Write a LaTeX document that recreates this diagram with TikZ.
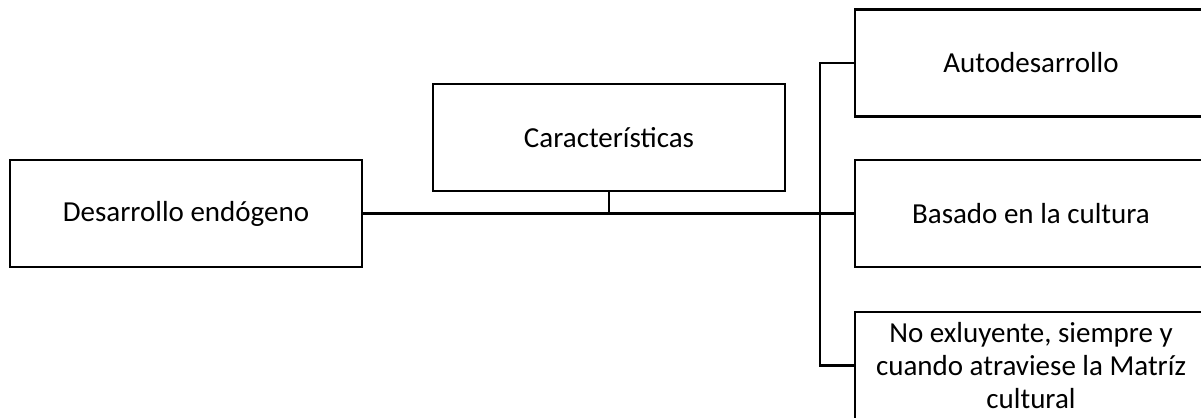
\documentclass[tikz,border=0pt]{standalone}
\usepackage{fontspec}
\setmainfont{Carlito}
\tikzset{
  caja/.style={draw, line width=1.1pt, minimum width=176pt, minimum height=53.5pt, align=center, inner sep=0pt, font=\fontsize{14.5}{16.5}\selectfont},
  linea/.style={line width=1.1pt}
}
\begin{document}
\begin{tikzpicture}[x=0.5pt,y=-0.5pt]
        \useasboundingbox (0,0) rectangle (1201,418);
        \clip (0,0) rectangle (1201,418);
        %\draw [help lines] (0,0) grid[step=50] (1201,418);
        \node [caja] (desarrollo) at (186,213.5) {Desarrollo endógeno};
        \node [caja] (carac) at (609,137.5) {Características};
        
        \node [caja] (auto) at (1031,63) {Autodesarrollo};
        \node [caja] (cultura) at (1031,213.5) {Basado en la cultura};
        \node [caja] (matriz) at (1031,365.5) {No exluyente, siempre y\\cuando atraviese la Matríz\\cultural};
        
        \coordinate (tronco) at (820,213.5);
        
        \draw [line width=1.4pt] (desarrollo.east) -- (tronco);
        \draw [linea] (tronco) -- (cultura.west);
        \draw [linea] (carac.south) -- (carac.south |- tronco);
        \draw [linea] (auto.west) -| (tronco) |- (matriz.west);
        
    \end{tikzpicture}
\end{document}
